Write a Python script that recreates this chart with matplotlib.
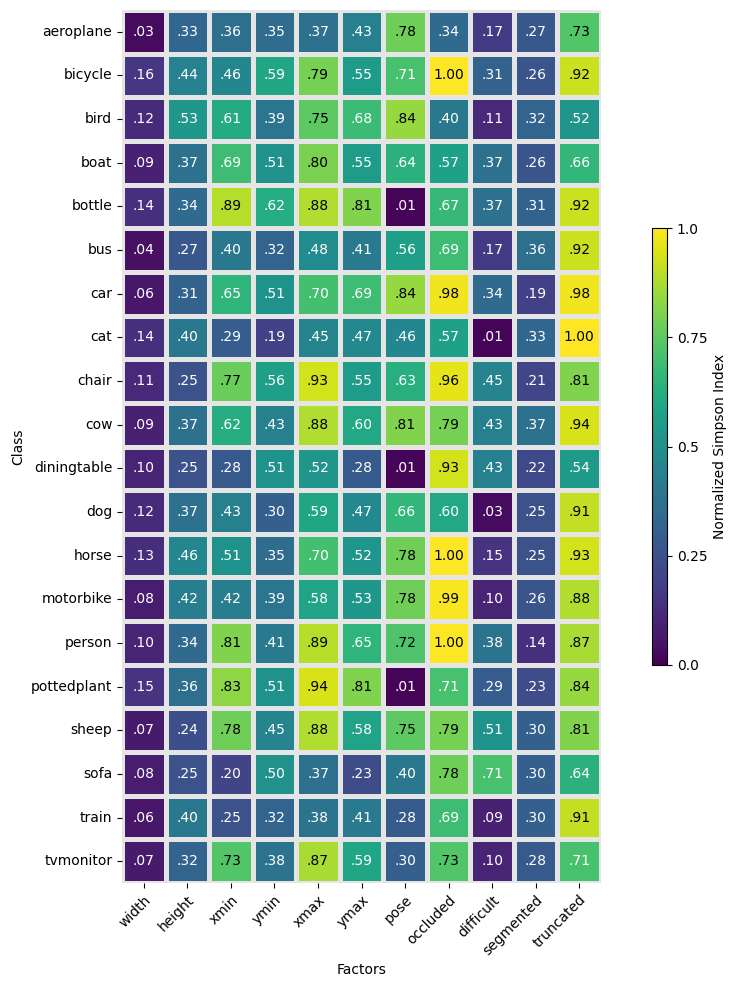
import numpy as np
import matplotlib
matplotlib.use("Agg")
import matplotlib.pyplot as plt
import seaborn as sns

classes = ["aeroplane", "bicycle", "bird", "boat", "bottle", "bus", "car", "cat",
           "chair", "cow", "diningtable", "dog", "horse", "motorbike", "person",
           "pottedplant", "sheep", "sofa", "train", "tvmonitor"]
factors = ["width", "height", "xmin", "ymin", "xmax", "ymax", "pose",
           "occluded", "difficult", "segmented", "truncated"]

values = [
    [.03, .33, .36, .35, .37, .43, .78, .34, .17, .27, .73],
    [.16, .44, .46, .59, .79, .55, .71, 1.00, .31, .26, .92],
    [.12, .53, .61, .39, .75, .68, .84, .40, .11, .32, .52],
    [.09, .37, .69, .51, .80, .55, .64, .57, .37, .26, .66],
    [.14, .34, .89, .62, .88, .81, .01, .67, .37, .31, .92],
    [.04, .27, .40, .32, .48, .41, .56, .69, .17, .36, .92],
    [.06, .31, .65, .51, .70, .69, .84, .98, .34, .19, .98],
    [.14, .40, .29, .19, .45, .47, .46, .57, .01, .33, 1.00],
    [.11, .25, .77, .56, .93, .55, .63, .96, .45, .21, .81],
    [.09, .37, .62, .43, .88, .60, .81, .79, .43, .37, .94],
    [.10, .25, .28, .51, .52, .28, .01, .93, .43, .22, .54],
    [.12, .37, .43, .30, .59, .47, .66, .60, .03, .25, .91],
    [.13, .46, .51, .35, .70, .52, .78, 1.00, .15, .25, .93],
    [.08, .42, .42, .39, .58, .53, .78, .99, .10, .26, .88],
    [.10, .34, .81, .41, .89, .65, .72, 1.00, .38, .14, .87],
    [.15, .36, .83, .51, .94, .81, .01, .71, .29, .23, .84],
    [.07, .24, .78, .45, .88, .58, .75, .79, .51, .30, .81],
    [.08, .25, .20, .50, .37, .23, .40, .78, .71, .30, .64],
    [.06, .40, .25, .32, .38, .41, .28, .69, .09, .30, .91],
    [.07, .32, .73, .38, .87, .59, .30, .73, .10, .28, .71],
]

cbar_ticks = [0.0, 0.25, 0.5, 0.75, 1.0]

data = np.array(values)
# labels without the leading zero, like ".33"
labels = np.array([[("%.2f" % v).lstrip("0") if v < 1 else "%.2f" % v for v in row] for row in data])

W, H = 742, 989
fig = plt.figure(figsize=(W / 100, H / 100), dpi=100)
ax = fig.add_axes([122 / W, 1 - 883 / H, 479 / W, 873 / H])
cax = fig.add_axes([652 / W, 1 - 665 / H, 15 / W, 437 / H])

sns.heatmap(data, ax=ax, cbar_ax=cax, cmap="viridis", vmin=0, vmax=1,
            annot=labels, fmt="", annot_kws={"fontsize": 10},
            linewidths=2.2, linecolor="#e5e5e5",
            xticklabels=factors, yticklabels=classes,
            cbar_kws={"ticks": cbar_ticks})

# dark text on light cells should be pure black
for t in ax.texts:
    if t.get_color() != "w":
        t.set_color("black")

ax.set_xticklabels(factors, rotation=45, ha="right", rotation_mode="anchor")
ax.set_yticklabels(classes, rotation=0)
ax.set_xlabel("Factors")
ax.set_ylabel("Class")

cbar = ax.collections[0].colorbar
cbar.set_ticklabels([str(t) for t in cbar_ticks])
cbar.set_label("Normalized Simpson Index")
cbar.outline.set_visible(True)
cbar.outline.set_edgecolor("black")
cbar.outline.set_linewidth(0.8)

fig.savefig("out.png", dpi=100)
